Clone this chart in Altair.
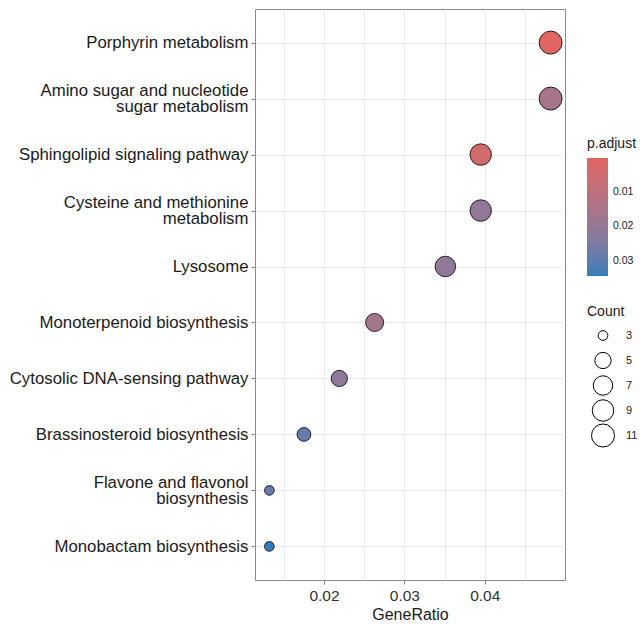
import altair as alt
import pandas as pd

# Enriched pathways, top to bottom
terms = [
    "Porphyrin metabolism",
    "Amino sugar and nucleotide\nsugar metabolism",
    "Sphingolipid signaling pathway",
    "Cysteine and methionine\nmetabolism",
    "Lysosome",
    "Monoterpenoid biosynthesis",
    "Cytosolic DNA-sensing pathway",
    "Brassinosteroid biosynthesis",
    "Flavone and flavonol\nbiosynthesis",
    "Monobactam biosynthesis",
]
gene_ratio = [0.0482, 0.0482, 0.0395, 0.0395, 0.0351, 0.0263, 0.0219, 0.0175, 0.0132, 0.0132]
counts = [11, 11, 9, 9, 8, 6, 5, 4, 3, 3]
p_adjust = [0.00026, 0.0160, 0.0042, 0.0205, 0.0210, 0.0165, 0.0215, 0.0285, 0.0285, 0.0343]

# axis ticks / grid positions (major at 0.01 steps, minor halfway)
x_grid = [0.015, 0.02, 0.025, 0.03, 0.035, 0.04, 0.045]
color_ticks = [0.01, 0.02, 0.03]
count_ticks = [3, 5, 7, 9, 11]

df = pd.DataFrame({
    "Description": terms,
    "GeneRatio": gene_ratio,
    "Count": counts,
    "p_adjust": p_adjust,
})

FONT = "Liberation Sans"
minor_test = "round(datum.value * 1000) % 10 != 0"
LINE_H = 16

chart = (
    alt.Chart(df)
    .mark_circle(opacity=1, stroke="black", strokeWidth=0.8)
    .encode(
        x=alt.X(
            "GeneRatio:Q",
            title="GeneRatio",
            scale=alt.Scale(domain=[0.01141, 0.04999], nice=False, zero=False),
            axis=alt.Axis(
                values=x_grid,
                labelExpr="round(datum.value * 1000) % 10 == 0 ? format(datum.value, '.2f') : ''",
                tickOpacity={"condition": {"test": minor_test, "value": 0}, "value": 1},
                labelFontSize=15.5,
                labelColor="#333333",
                labelPadding=4,
                labelFlush=False,
                titleFontSize=16,
                titleFontWeight="normal",
                titleColor="#1a1a1a",
                titlePadding=3,
            ),
        ),
        y=alt.Y(
            "Description:N",
            sort=terms,
            title=None,
            scale=alt.Scale(type="point", padding=0.6),
            axis=alt.Axis(
                labelExpr="split(datum.label, '\\n')",
                labelFontSize=16.8,
                labelLineHeight=LINE_H,
                labelOffset={
                    "condition": {"test": "indexof(datum.label, '\\n') >= 0", "value": -LINE_H / 2},
                    "value": 0,
                },
                labelColor="#1a1a1a",
                labelPadding=3,
                labelLimit=300,
            ),
        ),
        color=alt.Color(
            "p_adjust:Q",
            title="p.adjust",
            scale=alt.Scale(
                domain=[0.0343, 0.00026],
                range=["#327eba", "#e06663"],
                interpolate="lab",
                zero=False,
                nice=False,
            ),
            legend=alt.Legend(
                values=color_ticks,
                format=".2f",
                orient="none",
                legendX=332,
                legendY=128,
                gradientLength=118,
                gradientThickness=21,
                gradientStrokeWidth=0,
                labelFontSize=10.5,
                labelOffset=5,
                titleFontSize=14,
                titlePadding=7,
            ),
        ),
        size=alt.Size(
            "Count:Q",
            scale=alt.Scale(type="log", domain=[3, 11], range=[94, 529]),
            legend=alt.Legend(
                values=count_ticks,
                orient="none",
                legendX=332,
                legendY=296,
                clipHeight=25,
                rowPadding=0,
                symbolOffset=4,
                symbolFillColor="white",
                symbolStrokeColor="black",
                symbolStrokeWidth=1,
                labelFontSize=11,
                labelOffset=11,
                titleFontSize=14,
                titlePadding=4,
            ),
        ),
    )
    .properties(
        width=310,
        height=571,
        autosize=alt.AutoSizeParams(type="none"),
        padding={"left": 255, "top": 9, "right": 76, "bottom": 44},
    )
    .configure(font=FONT)
    .configure_view(stroke="#8a8a8a", strokeWidth=1)
    .configure_axis(
        grid=True,
        gridColor="#ebebeb",
        gridWidth=1,
        domain=False,
        tickColor="#7a7a7a",
        tickSize=4,
        tickWidth=1,
        labelFont=FONT,
        titleFont=FONT,
    )
    .configure_legend(
        labelFont=FONT,
        titleFont=FONT,
        titleFontWeight="normal",
        titleColor="#1a1a1a",
        labelColor="#1a1a1a",
    )
)

chart.save("out.html", embed_options={"renderer": "svg", "actions": False})
